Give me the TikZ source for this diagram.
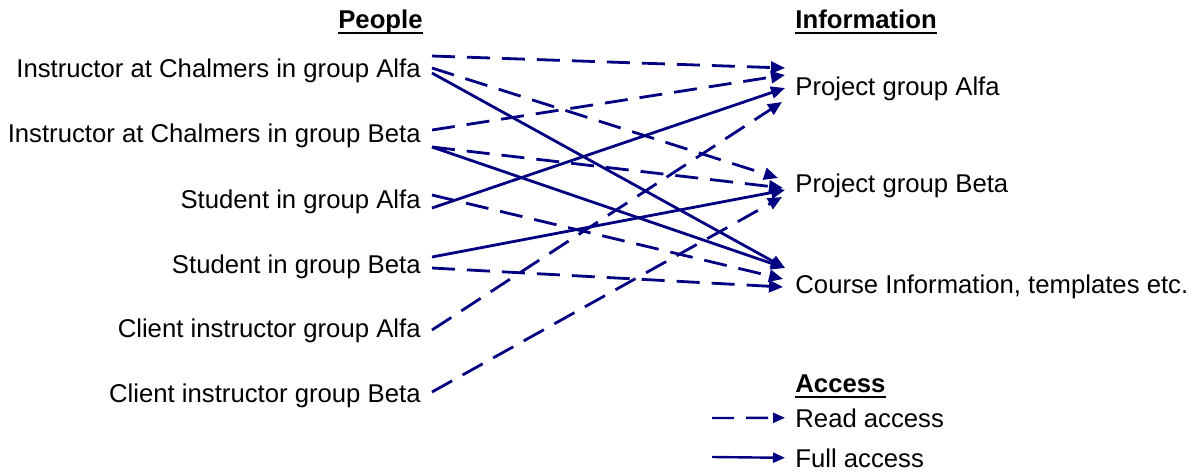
\documentclass[tikz,border=0pt]{standalone}
\usepackage{fontspec}
\setmainfont{Liberation Sans}
\usetikzlibrary{arrows.meta,calc}
\definecolor{linkblue}{RGB}{0,0,128}

\begin{document}
\begin{tikzpicture}[x=0.5pt,y=-0.5pt,
  every node/.style={inner sep=0pt, font=\fontsize{12.85}{15}\selectfont},
  person/.style={anchor=base east},
  info/.style={anchor=base west},
  heading/.style={font=\fontsize{12.85}{15}\selectfont\bfseries},
  readlink/.style={draw=linkblue, line width=1.4pt, dash pattern=on 11.5pt off 6pt,
    -{Triangle[length=7pt,width=6pt]}},
  fulllink/.style={draw=linkblue, line width=1.4pt,
    -{Triangle[length=7pt,width=6pt]}},
  legendread/.style={draw=linkblue, line width=1.2pt, dash pattern=on 11pt off 6pt,
    -{Triangle[length=6pt,width=5pt]}},
  legendfull/.style={draw=linkblue, line width=1.2pt,
    -{Triangle[length=6pt,width=5pt]}},
  underline/.style={line width=1pt}
]
\useasboundingbox (0,0) rectangle (1200,472);

% headings
\node[heading, anchor=base east] (people) at (423,28) {People};
\node[heading, anchor=base west] (information) at (795,28) {Information};
\node[heading, anchor=base west] (access) at (795,392) {Access};
\foreach \h in {people,information,access}
  \draw[underline] ([yshift=-2.6pt]\h.base west) -- ([yshift=-2.6pt]\h.base east);

% people
\node[person] (ia) at (421,77)  {Instructor at Chalmers in group Alfa};
\node[person] (ib) at (421,142) {Instructor at Chalmers in group Beta};
\node[person] (sa) at (421,208) {Student in group Alfa};
\node[person] (sb) at (421,273) {Student in group Beta};
\node[person] (ca) at (421,337) {Client instructor group Alfa};
\node[person] (cb) at (421,402) {Client instructor group Beta};

% information
\node[info] (pa) at (795,95)  {Project group Alfa};
\node[info] (pb) at (795,192) {Project group Beta};
\node[info] (ci) at (795,293) {Course Information, templates etc.};

% link ends beside the labels
\coordinate (ia1) at (432,56);  \coordinate (ia2) at (432,68);  \coordinate (ia3) at (432,73);
\coordinate (ib1) at (432,130); \coordinate (ib2) at (432,147);
\coordinate (sa1) at (432,195); \coordinate (sa2) at (432,208);
\coordinate (sb1) at (432,257); \coordinate (sb2) at (432,268);
\coordinate (ca1) at (432,330);
\coordinate (cb1) at (432,392);

\coordinate (pa1) at (785,68);  \coordinate (pa2) at (785,75);
\coordinate (pa3) at (785,88);  \coordinate (pa4) at (782,102);
\coordinate (pb1) at (778,178); \coordinate (pb2) at (783,188);
\coordinate (pb3) at (785,190); \coordinate (pb4) at (782,197);
\coordinate (ci1) at (785,268); \coordinate (ci2) at (783,279);
\coordinate (ci3) at (783,287);

% access links
\draw[readlink] (ia1) -- (pa1);
\draw[readlink] (ia2) -- (pb1);
\draw[fulllink] (ia3) -- (ci1);
\draw[readlink] (ib1) -- (pa2);
\draw[readlink] (ib2) -- (pb2);
\draw[fulllink] (ib2) -- (ci1);
\draw[readlink] (sa1) -- (ci2);
\draw[fulllink] (sa2) -- (pa3);
\draw[fulllink] (sb1) -- (pb3);
\draw[readlink] (sb2) -- (ci3);
\draw[readlink] (ca1) -- (pa4);
\draw[readlink] (cb1) -- (pb4);

% legend
\node[info] (read) at (795,427) {Read access};
\node[info] (full) at (795,467) {Full access};
\coordinate (lr) at (712,418);
\coordinate (lf) at (712,457);
\draw[legendread] (lr) -- ([xshift=-5pt]read.west);
\draw[legendfull] (lf) -- ([xshift=-5pt]full.west);
\end{tikzpicture}
\end{document}
